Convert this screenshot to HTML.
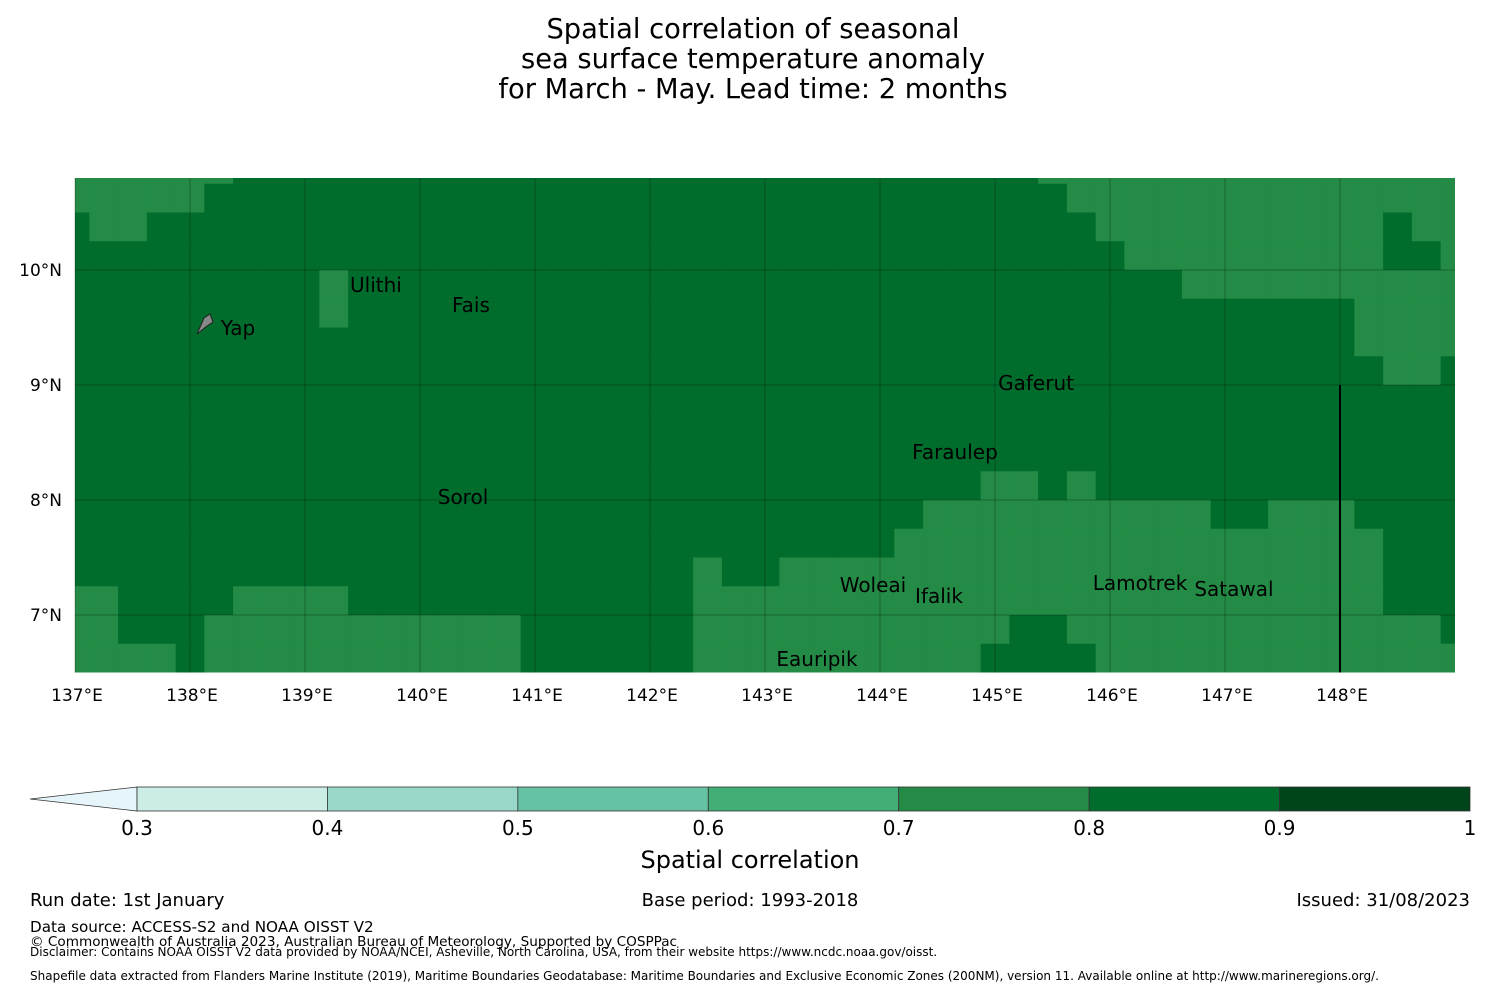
<!DOCTYPE html>
<html><head><meta charset="utf-8"><style>
html,body{margin:0;padding:0;background:#fff;}
svg text{font-family:"DejaVu Sans","Liberation Sans",sans-serif;}
</style></head><body>
<svg id="chart" width="1500" height="990" viewBox="0 0 1500 990" xmlns="http://www.w3.org/2000/svg">
<g font-size="27.3" text-anchor="middle" fill="#000">
<text x="753" y="38">Spatial correlation of seasonal</text>
<text x="753" y="68">sea surface temperature anomaly</text>
<text x="753" y="98">for March - May. Lead time: 2 months</text>
</g>
<g id="map"></g>
<g id="axes"></g>
<g id="cbar"></g>
<text x="750" y="868" font-size="24" text-anchor="middle">Spatial correlation</text>
<g fill="#000">
<text x="30" y="906" font-size="18">Run date: 1st January</text>
<text x="750" y="906" font-size="18" text-anchor="middle">Base period: 1993-2018</text>
<text x="1470" y="906" font-size="18" text-anchor="end">Issued: 31/08/2023</text>
<text x="30" y="932" font-size="15.2">Data source: ACCESS-S2 and NOAA OISST V2</text>
<text x="30" y="946" font-size="13.6">© Commonwealth of Australia 2023, Australian Bureau of Meteorology, Supported by COSPPac</text>
<text x="30" y="956" font-size="12">Disclaimer: Contains NOAA OISST V2 data provided by NOAA/NCEI, Asheville, North Carolina, USA, from their website https://www.ncdc.noaa.gov/oisst.</text>
<text x="30" y="980" font-size="12">Shapefile data extracted from Flanders Marine Institute (2019), Maritime Boundaries Geodatabase: Maritime Boundaries and Exclusive Economic Zones (200NM), version 11. Available online at http://www.marineregions.org/.</text>
</g>
</svg>
<script>
// correlation classes per grid row (digit d => value d/10 + 0.05), north to south
const gridRows = [
"7777778888"+"8888888888"+"8888888888"+"8888777777"+"777777777",
"7777788888"+"8888888888"+"8888888888"+"8888877777"+"777777777",
"8778888888"+"8888888888"+"8888888888"+"8888887777"+"777777877",
"8888888888"+"8888888888"+"8888888888"+"8888888777"+"777777887",
"8888888887"+"8888888888"+"8888888888"+"8888888887"+"777777777",
"8888888887"+"8888888888"+"8888888888"+"8888888888"+"888887777",
"8888888888"+"8888888888"+"8888888888"+"8888888888"+"888887777",
"8888888888"+"8888888888"+"8888888888"+"8888888888"+"888888778",
"8888888888"+"8888888888"+"8888888888"+"8888888888"+"888888888",
"8888888888"+"8888888888"+"8888888888"+"8888888888"+"888888888",
"8888888888"+"8888888888"+"8888888888"+"8888888888"+"888888888",
"8888888888"+"8888888888"+"8888888888"+"8877878888"+"888888888",
"8888888888"+"8888888888"+"8888888888"+"7777777777"+"887778888",
"8888888888"+"8888888888"+"8888888887"+"7777777777"+"777777888",
"8888888888"+"8888888888"+"8878877777"+"7777777777"+"777777888",
"7788887777"+"8888888888"+"8877777777"+"7777777777"+"777777888",
"7788877777"+"7777778888"+"8877777777"+"7778877777"+"777777778",
"7777877777"+"7777778888"+"8877777777"+"7788887777"+"777777777"
];
const levels = [0.3,0.4,0.5,0.6,0.7,0.8,0.9,1.0];
const levelColors = ["#ccece6","#99d8c9","#66c2a4","#41ae76","#238b45","#006d2c","#00441b"];
const lonTicks = [137,138,139,140,141,142,143,144,145,146,147,148];
const latTicks = [10,9,8,7];
const places = [
 {name:"Ulithi",lon:139.617,lat:9.870},{name:"Fais",lon:140.443,lat:9.696},{name:"Yap",lon:138.417,lat:9.496},
 {name:"Gaferut",lon:145.357,lat:9.017},{name:"Faraulep",lon:144.652,lat:8.417},{name:"Sorol",lon:140.374,lat:8.026},
 {name:"Woleai",lon:143.939,lat:7.261},{name:"Ifalik",lon:144.513,lat:7.165},{name:"Lamotrek",lon:146.261,lat:7.278},
 {name:"Satawal",lon:147.078,lat:7.226},{name:"Eauripik",lon:143.452,lat:6.617}
];
const NS="http://www.w3.org/2000/svg";
const LON0=137,LON1=149,LAT0=6.5,LAT1=10.8;
function xOf(lon){return 75+(lon-LON0)*115;}
function yOf(lat){return 270-(lat-10)*115;}
function colorFor(v){for(let i=0;i<levels.length-1;i++){if(v>=levels[i]&&v<levels[i+1])return levelColors[i];}return levelColors[levelColors.length-1];}
function mk(tag,attrs,parent){const e=document.createElementNS(NS,tag);for(const k in attrs)e.setAttribute(k,attrs[k]);parent.appendChild(e);return e;}
const map=document.getElementById('map');
gridRows.forEach((row,r)=>{
  const latTop = r===0?LAT1:11-0.25*r;
  const latBot = Math.max(LAT0, r===0?10.75:11-0.25*(r+1));
  for(let c=0;c<row.length;c++){
    const lonL = c===0?LON0:137.125+0.25*(c-1);
    const lonR = Math.min(LON1, c===0?137.125:137.125+0.25*c);
    const v = parseInt(row[c])/10+0.05;
    const x1=xOf(lonL),x2=xOf(lonR),y1=yOf(latTop),y2=yOf(latBot);
    const el=mk('rect',{x:x1,y:y1,width:Math.min(x2-x1+0.4,xOf(LON1)-x1),height:Math.min(y2-y1+0.4,yOf(LAT0)-y1),fill:colorFor(v)},map);
    
    
  }
});
const ax=document.getElementById('axes');
lonTicks.forEach(l=>{
  const g=mk('line',{x1:xOf(l),x2:xOf(l),y1:yOf(LAT1),y2:yOf(LAT0),stroke:"rgba(0,0,0,0.22)","stroke-width":1.2},ax);
  
  
  const t=mk('text',{x:xOf(l)+2,y:701,"font-size":17,"text-anchor":"middle"},ax);
  t.textContent=l+"°E";
  
  
});
latTicks.forEach(l=>{
  const g=mk('line',{x1:xOf(LON0),x2:xOf(LON1),y1:yOf(l),y2:yOf(l),stroke:"rgba(0,0,0,0.22)","stroke-width":1.2},ax);
  
  
  const t=mk('text',{x:62,y:yOf(l)+6,"font-size":17,"text-anchor":"end"},ax);
  t.textContent=l+"°N";
  
  
});
const eez=mk('line',{x1:xOf(148),x2:xOf(148),y1:yOf(9),y2:yOf(LAT0),stroke:"#000","stroke-width":2},ax);


const yap=mk('path',{d:"M197,334 L204,318 L210,314 L213,322 L207,326 Z",fill:"#888",stroke:"#222","stroke-width":1},ax);


places.forEach(p=>{
  const t=mk('text',{x:xOf(p.lon),y:yOf(p.lat)+7,"font-size":20,"text-anchor":"middle"},ax);
  t.textContent=p.name;
  
  
});
// colorbar
const cb=document.getElementById('cbar');
const cbX0=137,cbX1=1470,cbY=787,cbH=24;
function cbx(v){return cbX0+(v-levels[0])/(levels[levels.length-1]-levels[0])*(cbX1-cbX0);}
const tri=mk('path',{d:`M${cbX0},${cbY} L30,${cbY+cbH/2} L${cbX0},${cbY+cbH} Z`,fill:"#e5f5f9",stroke:"#333","stroke-width":0.8},cb);


for(let i=0;i<levelColors.length;i++){
  const r=mk('rect',{x:cbx(levels[i]),y:cbY,width:cbx(levels[i+1])-cbx(levels[i]),height:cbH,fill:levelColors[i],stroke:"#333","stroke-width":0.8},cb);
  
  
}
levels.forEach(v=>{
  const t=mk('text',{x:cbx(v),y:835,"font-size":20,"text-anchor":"middle"},cb);
  t.textContent=(v===1?"1":v.toFixed(1));
  
  
});
</script>
</body></html>
